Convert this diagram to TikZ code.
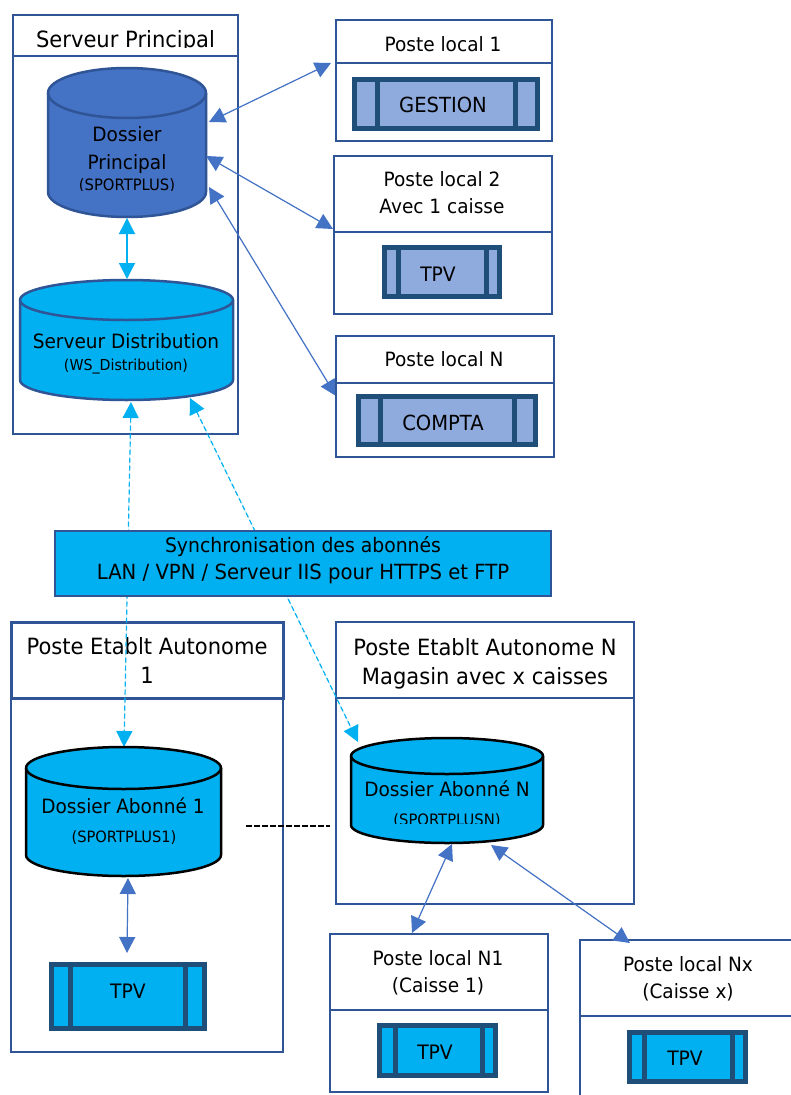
\documentclass[tikz,border=0pt]{standalone}
\usepackage{fontspec}
\setmainfont{DejaVu Sans}[FakeStretch=0.94]
\usetikzlibrary{arrows.meta}
\definecolor{edgeblue}{HTML}{2F5597}
\definecolor{linkblue}{HTML}{4472C4}
\definecolor{cyanfill}{HTML}{00B0F0}
\definecolor{procedge}{HTML}{1F4E79}
\definecolor{procfill}{HTML}{8FAADC}
\newcommand{\fsz}[1]{\fontsize{#1pt}{#1pt}\selectfont}
\tikzset{
  x=1pt,y=-1pt,
  boxst/.style={draw=edgeblue,line width=2.5pt,fill=white,inner sep=0pt,outer sep=0pt,anchor=north west},
  procst/.style={draw=procedge,line width=5pt,inner sep=0pt,outer sep=0pt,anchor=north west},
  lab/.style={inner sep=0pt,anchor=base,text=black,font=\fsz{#1}},
  lab/.default=19.7,
  dbl/.style={{Triangle[length=16pt,width=16pt]}-{Triangle[length=16pt,width=16pt]}},
  bluelink/.style={dbl,draw=linkblue,fill=linkblue,line width=1.2pt},
  synclink/.style={dbl,draw=cyanfill,fill=cyanfill,line width=1.2pt,dash pattern=on 5pt off 3pt},
}
% name, x0, x1, top-ellipse centre y, bottom-ellipse centre y, ry, fill, stroke, width
\newcommand{\cylshape}[9]{%
  \pgfmathsetmacro{\mycx}{(#2+#3)/2}\pgfmathsetmacro{\myrx}{(#3-#2)/2}
  \pgfmathsetmacro{\mykx}{0.5523*\myrx}\pgfmathsetmacro{\myky}{0.5523*#6}
  \path[fill=#7,draw=#8,line width=#9]
    (#2,#5) .. controls (#2,#5+\myky) and (\mycx-\mykx,#5+#6) .. (\mycx,#5+#6)
            .. controls (\mycx+\mykx,#5+#6) and (#3,#5+\myky) .. (#3,#5)
    -- (#3,#4) .. controls (#3,#4-\myky) and (\mycx+\mykx,#4-#6) .. (\mycx,#4-#6)
            .. controls (\mycx-\mykx,#4-#6) and (#2,#4-\myky) .. (#2,#4) -- cycle;
  \path[draw=#8,line width=#9]
    (#2,#4) .. controls (#2,#4+\myky) and (\mycx-\mykx,#4+#6) .. (\mycx,#4+#6)
            .. controls (\mycx+\mykx,#4+#6) and (#3,#4+\myky) .. (#3,#4);
  \coordinate (#1) at (\mycx,#4);
}
% name, x0, y0, x1, y1, line1 x, line2 x, fill  (outer edges of the frame)
\newcommand{\procshape}[8]{%
  \pgfmathsetmacro{\mywd}{#4-#2-5}\pgfmathsetmacro{\myht}{#5-#3-5}
  \node[procst,fill=#8,minimum width=\mywd pt,minimum height=\myht pt] (#1) at (#2+2.5,#3+2.5) {};
  \draw[draw=procedge,line width=5pt] (#6,#3+2) -- (#6,#5-2) (#7,#3+2) -- (#7,#5-2);
}
% name, x0, y0, x1, y1, divider y
\newcommand{\panel}[6]{%
  \pgfmathsetmacro{\mywd}{#4-#2}\pgfmathsetmacro{\myht}{#5-#3}\pgfmathsetmacro{\myhh}{#6-#3}
  \node[boxst,minimum width=\mywd pt,minimum height=\myht pt] (#1) at (#2,#3) {};
  \node[boxst,minimum width=\mywd pt,minimum height=\myhh pt] (#1h) at (#2,#3) {};
}
\begin{document}
\begin{tikzpicture}
\useasboundingbox (0,0) rectangle (791,1095);
\clip (0,0) rectangle (791,1095);
\fill[white] (0,0) rectangle (791,1095);

% free ends of the connectors
\coordinate (a1a) at (209,122);  \coordinate (a1b) at (331,63);
\coordinate (a2a) at (206,156);  \coordinate (a2b) at (333,229);
\coordinate (a3a) at (209,187);  \coordinate (a3b) at (336,396);
\coordinate (c1a) at (127,218);  \coordinate (c1b) at (127,279);
\coordinate (s1a) at (131,402);  \coordinate (s1b) at (124,747);
\coordinate (s2a) at (190,398);  \coordinate (s2b) at (358,742);
\coordinate (d1a) at (128,878);  \coordinate (d1b) at (127,953);
\coordinate (n1a) at (452,844);  \coordinate (n1b) at (412,933);
\coordinate (nxa) at (491,845);  \coordinate (nxb) at (630,943);
\coordinate (daa) at (246,826);  \coordinate (dab) at (330,826);

% Serveur principal
\panel{sp}{13}{15}{238}{434}{56}
\begin{scope}
  \clip (14,20) rectangle (237,47.8);
  \node[lab=22.4] (sptxt) at (125.5,47) {Serveur Principal};
\end{scope}
\cylshape{dp}{48}{206}{93}{192}{25}{linkblue}{edgeblue}{2.5pt}
\node[lab] (dptxt) at (127,141) {Dossier};
\node[lab] (dptxtb) at (127,169) {Principal};
\begin{scope}
  \clip (48,170) rectangle (206,190.7);
  \node[lab=15.7] (dptxtc) at (127,190) {(SPORTPLUS)};
\end{scope}
\cylshape{sd}{20}{233}{300}{380}{20}{cyanfill}{edgeblue}{2.5pt}
\node[lab] (sdtxt) at (126,348) {Serveur Distribution};
\node[lab=15.1] (sdtxtb) at (126,370) {(WS\_Distribution)};

% Arrows that run behind the local posts
\draw[bluelink] (a3a) -- (a3b);

% Postes locaux
\panel{pl1}{336}{20}{552}{141}{63}
\node[lab] (pl1t) at (443,51) {Poste local 1};
\procshape{gest}{352}{77}{540}{131}{377}{515}{procfill}
\node[lab=20.8] (gestt) at (443,112.5) {GESTION};

\panel{pl2}{334}{156}{552}{314}{232}
\node[lab] (pl2t) at (442,186) {Poste local 2};
\node[lab] (pl2u) at (442,213) {Avec 1 caisse};
\procshape{tpva}{382}{245}{502}{299}{398}{486}{procfill}
\node[lab=19.9] (tpvat) at (438,281) {TPV};

\panel{pln}{336}{336}{554}{457}{383}
\node[lab] (plnt) at (444,366) {Poste local N};
\procshape{cpt}{356}{394}{538}{447}{380}{514}{procfill}
\node[lab=20.8] (cptt) at (443,430) {COMPTA};

\draw[bluelink] (a1a) -- (a1b);
\draw[bluelink] (a2a) -- (a2b);
\draw[dbl,draw=cyanfill,fill=cyanfill,line width=1.5pt] (c1a) -- (c1b);

% Postes autonomes
\panel{pe1}{11}{622}{283}{1052}{698}
\draw[edgeblue,line width=3pt] (pe1h.north west) rectangle (pe1h.south east);
\node[lab=22.4] (pe1t) at (147,654) {Poste Etablt Autonome};
\node[lab=22.4] (pe1u) at (147,683) {1};
\panel{pen}{336}{622}{634}{904}{698}
\node[lab=22.4] (pent) at (485,655) {Poste Etablt Autonome N};
\node[lab=22.4] (penu) at (485,684) {Magasin avec x caisses};

% Synchronisation
\draw[synclink] (s1a) -- (s1b);
\draw[synclink] (s2a) -- (s2b);
\node[boxst,fill=cyanfill,minimum width=496pt,minimum height=65pt] (sync) at (55,531) {};
\node[lab=20] (synct) at (303,552.7) {Synchronisation des abonnés};
\node[lab=20.9] (syncu) at (303,579) {LAN / VPN / Serveur IIS pour HTTPS et FTP};

% Dossiers abonnés
\cylshape{da1}{26}{221}{768}{855}{21}{cyanfill}{black}{2.5pt}
\node[lab] (da1t) at (123,813) {Dossier Abonné 1};
\node[lab=15.6] (da1u) at (124,842) {(SPORTPLUS1)};
\cylshape{dan}{351}{543}{756}{825}{18}{cyanfill}{black}{2.5pt}
\node[lab] (dant) at (447,796) {Dossier Abonné N};
\begin{scope}
  \clip (352,805) rectangle (542,823);
  \node[lab=15.7] (danu) at (447,825) {(SPORTPLUSN)};
\end{scope}
\draw[line width=2pt,dash pattern=on 6pt off 2pt] (daa) -- (dab);

\procshape{tpvb}{49}{962}{207}{1031}{70.7}{185.7}{cyanfill}
\node[lab=19.9] (tpvbt) at (128,998) {TPV};
\draw[bluelink] (d1a) -- (d1b);

% Postes locaux de caisse
\panel{pn1}{330}{934}{548}{1092}{1010}
\node[lab] (pn1t) at (438,965) {Poste local N1};
\node[lab] (pn1u) at (438,992) {(Caisse 1)};
\procshape{tpvc}{377}{1023}{498}{1078}{395}{482}{cyanfill}
\node[lab=19.9] (tpvct) at (435,1059) {TPV};

\panel{pnx}{580}{940}{800}{1110}{1016}
\node[lab] (pnxt) at (688,971) {Poste local Nx};
\node[lab] (pnxu) at (688,998) {(Caisse x)};
\procshape{tpvd}{627}{1030}{748}{1084}{644}{732}{cyanfill}
\node[lab=19.9] (tpvdt) at (685,1065) {TPV};

\draw[bluelink] (n1a) -- (n1b);
\draw[bluelink] (nxa) -- (nxb);
\end{tikzpicture}
\end{document}
